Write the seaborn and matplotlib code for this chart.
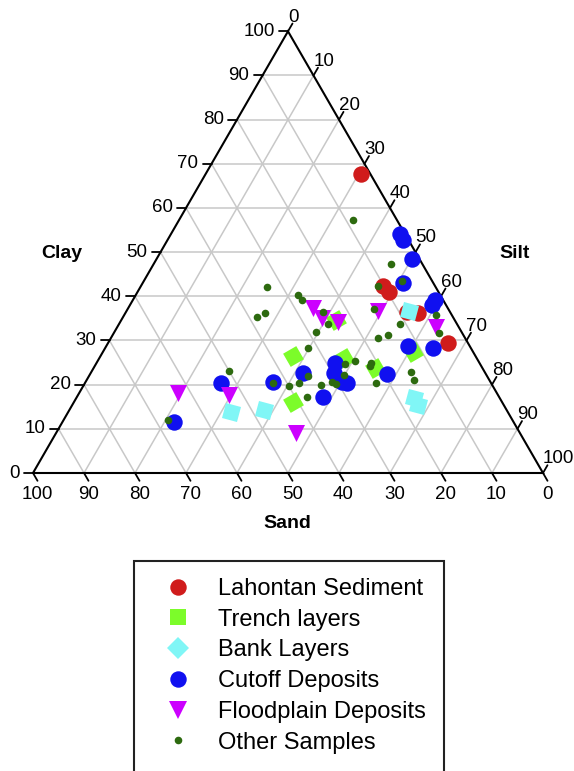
import numpy as np
import pandas as pd
import seaborn as sns
import matplotlib.pyplot as plt
from matplotlib.lines import Line2D
from matplotlib.markers import MarkerStyle
from matplotlib.patches import Rectangle
from matplotlib.transforms import Affine2D

# Compositions en % (argile, limon) ; sable = 100 - argile - limon
lahontan_clay = [67.7, 42.3, 41.0, 36.4, 36.2, 29.4]
lahontan_silt = [30.5, 47.4, 49.3, 55.1, 57.4, 66.7]

trench_clay = [26.5, 34.6, 26.0, 23.8, 27.4, 16.1]
trench_silt = [37.7, 42.1, 48.0, 55.2, 60.8, 42.9]

bank_clay = [36.7, 13.8, 14.3, 17.0, 15.4]
bank_silt = [55.4, 31.9, 38.1, 66.2, 67.8]

cutoff_clay = [54.1, 52.8, 48.4, 43.0, 39.2, 38.0, 28.8, 28.3, 22.4, 24.9,
               22.6, 20.6, 20.4, 22.6, 17.2, 20.6, 20.4, 11.5]
cutoff_silt = [44.9, 46.1, 50.1, 51.0, 59.2, 59.2, 59.1, 64.3, 58.2, 46.8,
               47.7, 50.3, 51.4, 41.6, 48.3, 36.8, 26.7, 21.9]

flood_clay = [37.4, 35.1, 34.2, 36.7, 33.1, 18.1, 17.7, 9.1]
flood_silt = [36.2, 39.1, 42.7, 49.3, 62.5, 19.4, 29.6, 47.0]

other_clay = [57.3, 47.3, 42.1, 40.3, 39.2, 42.3, 43.5, 36.4, 33.7, 31.9,
              37.1, 35.3, 36.2, 35.8, 31.7, 33.7, 30.6, 31.2, 28.3, 22.0,
              20.4, 19.7, 20.4, 17.2, 19.9, 24.7, 25.4, 22.2, 20.6, 20.1,
              24.9, 24.2, 20.4, 22.9, 21.1, 23.1, 12.0]
other_silt = [34.1, 46.5, 24.8, 31.8, 33.1, 46.5, 50.6, 38.7, 41.0, 39.5,
              48.3, 26.3, 27.4, 61.1, 63.8, 55.1, 52.3, 54.0, 39.8, 42.9,
              36.9, 40.3, 42.0, 45.1, 46.5, 48.8, 50.4, 49.9, 48.3, 49.4,
              53.8, 54.0, 57.1, 62.7, 64.2, 26.9, 20.5]

tick_values = list(range(0, 101, 10))

H = np.sqrt(3) / 2


def to_xy(clay, silt):
    clay = np.asarray(clay, dtype=float)
    silt = np.asarray(silt, dtype=float)
    return (silt + clay / 2) / 100, clay / 100 * H


sns.set_style("white")
plt.rcParams['font.family'] = ['Liberation Sans', 'DejaVu Sans']
plt.rcParams['text.color'] = 'black'

fig = plt.figure(figsize=(5.74, 7.71), dpi=100)
ax = fig.add_axes([0, 0, 1, 1])
ax.set_xlim(-33 / 510, 541 / 510)
ax.set_ylim(-298 / 510, 473 / 510)
ax.set_aspect('equal')
ax.axis('off')

# grille
grid_kw = dict(color='#c8c8c8', lw=1.1, zorder=1)
for v in tick_values[1:-1]:
    x, y = to_xy([v, v], [0, 100 - v])
    ax.plot(x, y, **grid_kw)
    x, y = to_xy([0, 100 - v], [v, v])
    ax.plot(x, y, **grid_kw)
    x, y = to_xy([0, 100 - v], [100 - v, 0])
    ax.plot(x, y, **grid_kw)

# contour du triangle
x, y = to_xy([0, 0, 100, 0], [0, 100, 0, 0])
ax.plot(x, y, color='black', lw=1.5, zorder=2, solid_joinstyle='miter')

# graduations
L = 9 / 510
for v in tick_values:
    # argile (gauche)
    x, y = to_xy(v, 0)
    ax.plot([x, x - L], [y, y], color='black', lw=1.3)
    ax.text(x - L - 0.008, y, str(v), ha='right', va='center', fontsize=13.5)
    # limon (droite)
    x, y = to_xy(100 - v, v)
    ax.plot([x, x + 0.5 * L], [y, y + H * L], color='black', lw=1.3)
    ax.text(x + 0.5 * L - 0.009, y + H * L - 0.004, str(v), ha='left', va='bottom',
            fontsize=13.5)
    # sable (bas)
    x, y = to_xy(0, 100 - v)
    ax.plot([x, x + 0.5 * L], [y, y - H * L], color='black', lw=1.3)
    ax.text(x + 0.5 * L, y - H * L - 0.011, str(v), ha='center', va='top', fontsize=13.5)

ax.text(0.057, 0.430, 'Clay', ha='center', va='center', fontsize=14, fontweight='bold')
ax.text(0.945, 0.430, 'Silt', ha='center', va='center', fontsize=14, fontweight='bold')
ax.text(0.498, -0.100, 'Sand', ha='center', va='center', fontsize=14, fontweight='bold')

# points
groups = [
    ('Lahontan Sediment', lahontan_clay, lahontan_silt, '#d01c1c', 'o', 'o', 140),
    ('Trench layers', trench_clay, trench_silt, '#7cfc2a',
     MarkerStyle('s', transform=Affine2D().rotate_deg(30)), 's', 120),
    ('Bank Layers', bank_clay, bank_silt, '#80f6f6',
     MarkerStyle('s', transform=Affine2D().rotate_deg(-15)), 'D', 125),
    ('Cutoff Deposits', cutoff_clay, cutoff_silt, '#1010f0', 'o', 'o', 140),
    ('Floodplain Deposits', flood_clay, flood_silt, '#cc00ff', 'v', 'v', 150),
    ('Other Samples', other_clay, other_silt, '#2d6a0f', 'o', 'o', 30),
]

handles = []
for i, (name, clay, silt, color, marker, leg_marker, size) in enumerate(groups):
    x, y = to_xy(clay, silt)
    df = pd.DataFrame({'x': x, 'y': y})
    sns.scatterplot(data=df, x='x', y='y', ax=ax, color=color, marker=marker,
                    s=size, linewidth=0, legend=False, zorder=3 + i)
    handles.append(Line2D([], [], ls='none', marker=leg_marker, color=color,
                          markersize=np.sqrt(size), markeredgewidth=0, label=name))

ax.set_xlabel('')
ax.set_ylabel('')

fig.legend(handles=handles, loc='upper left', bbox_to_anchor=(154 / 574, 1 - 578 / 771),
           frameon=False, fontsize=17, borderpad=0, borderaxespad=0,
           handlelength=2.0, handletextpad=0.7, labelspacing=0.37)

fig.add_artist(Rectangle((134 / 574, -0.02), (444 - 134) / 574, (771 - 561) / 771 + 0.02,
                         transform=fig.transFigure, fill=False, edgecolor='#222222', lw=1.5))

fig.savefig('out.png', dpi=100)
